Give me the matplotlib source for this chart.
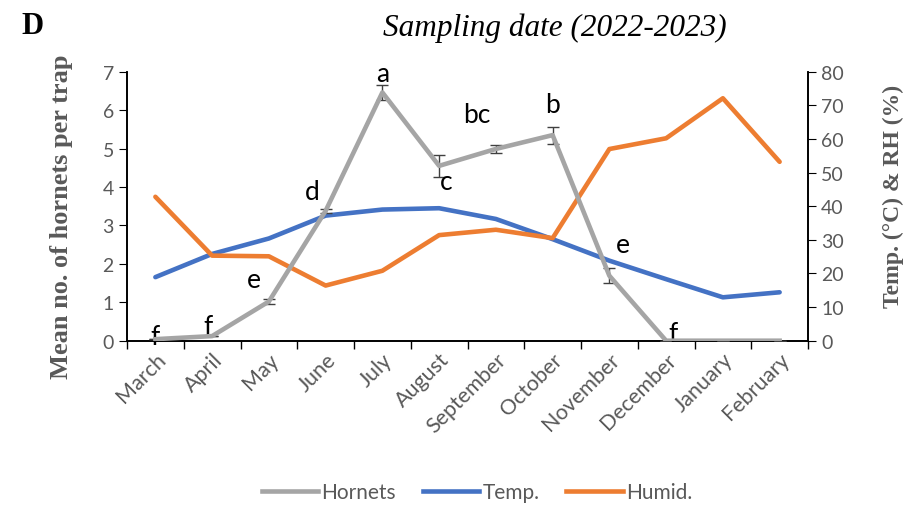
import matplotlib.pyplot as plt
from matplotlib.lines import Line2D
import numpy as np

months = ["March", "April", "May", "June", "July", "August", "September",
          "October", "November", "December", "January", "February"]
hornets = [0.04, 0.12, 1.02, 3.38, 6.46, 4.55, 4.99, 5.35, 1.69, 0.0, 0.0, 0.0]
hornets_err = [0.0, 0.0, 0.06, 0.06, 0.2, 0.28, 0.1, 0.22, 0.2, 0.0, 0.0, 0.0]
letters = ["f", "f", "e", "d", "a", "c", "bc", "b", "e", "f"]
temp = [18.9, 25.8, 30.4, 37.2, 39.0, 39.4, 36.2, 30.2, 23.8, 18.3, 12.9, 14.4]
humid = [42.8, 25.3, 25.1, 16.4, 20.8, 31.4, 33.0, 30.5, 57.0, 60.2, 72.1, 53.2]

# letter placement: shift along x (categories) and baseline height (hornet units)
letter_dx = [0.0, -0.07, -0.26, -0.23, 0.0, 0.12, -0.34, 0.0, 0.23, 0.12]
letter_base = [-0.08, 0.17, 1.39, 3.69, 6.77, 3.95, 5.68, 5.94, 2.30, 0.0]

gray = "#A5A5A5"
blue = "#4472C4"
orange = "#ED7D31"
txt = "#595959"
tick_font = "Lato"
serif = "Liberation Serif"

fig = plt.figure(figsize=(9.24, 5.06), dpi=100)
ax = fig.add_axes([127 / 924, 1 - 341.7 / 506, (808 - 127) / 924, (341.7 - 72.7) / 506])
ax2 = ax.twinx()

x = np.arange(len(months))
ax.errorbar(x, hornets, yerr=hornets_err, color=gray, lw=3.3, ecolor="#404040",
            elinewidth=1, capsize=4, capthick=1, zorder=3)
ax2.plot(x, temp, color=blue, lw=3.3, solid_capstyle="round")
ax2.plot(x, humid, color=orange, lw=3.3, solid_capstyle="round")
ax.set_zorder(ax2.get_zorder() + 1)
ax.patch.set_visible(False)

for i, lab in enumerate(letters):
    ax.text(x[i] + letter_dx[i], letter_base[i], lab, ha="center", va="baseline",
            fontsize=19, family=tick_font, color="black")

ax.set_xlim(-0.5, len(months) - 0.5)
ax.set_ylim(0, 7)
ax2.set_ylim(0, 80)
ax.set_yticks(range(0, 8))
ax2.set_yticks(range(0, 81, 10))
ax.set_xticks(x)
ax.set_xticklabels(months, rotation=45, ha="right", rotation_mode="anchor",
                   fontsize=15.5, family=tick_font, color=txt)
ax.set_xticks(np.arange(-0.5, len(months), 1), minor=True)
ax.tick_params(axis="x", which="major", length=0, pad=6)
ax.tick_params(axis="x", which="minor", length=6, direction="out", width=1)
ax.tick_params(axis="y", length=6, direction="out", labelsize=14, labelcolor=txt)
ax2.tick_params(axis="y", length=6, direction="out", labelsize=14, labelcolor=txt)
for t in ax.get_yticklabels() + ax2.get_yticklabels():
    t.set_family(tick_font)

for a in (ax, ax2):
    a.spines["top"].set_visible(False)
    for s in ("left", "right", "bottom"):
        a.spines[s].set_color("black")
        a.spines[s].set_linewidth(1.2)

fig.text(62 / 924, 1 - 217 / 506, "Mean no. of hornets per trap", family=serif,
         fontweight="bold", fontsize=19, color=txt, rotation=90,
         ha="center", va="center")
fig.text(893 / 924, 1 - 196 / 506, "Temp. (\u00b0C) & RH (%)", family=serif,
         fontweight="bold", fontsize=17, color=txt, rotation=90,
         ha="center", va="center")

fig.text(33 / 924, 1 - 27 / 506, "D", family=serif, fontweight="bold", fontsize=22,
         ha="center", va="center")
fig.text(555 / 924, 1 - 28 / 506, "Sampling date (2022-2023)", family=serif,
         style="italic", fontsize=22.5, ha="center", va="center")

handles = [Line2D([], [], color=gray, lw=3.3), Line2D([], [], color=blue, lw=3.3),
           Line2D([], [], color=orange, lw=3.3)]
leg = fig.legend(handles, ["Hornets", "Temp.", "Humid."], loc="center",
                 bbox_to_anchor=(477 / 924, 1 - 493 / 506), ncol=3, frameon=False,
                 prop={"family": tick_font, "size": 15}, handlelength=2.7,
                 handletextpad=0.15, columnspacing=1.3)
for t in leg.get_texts():
    t.set_color(txt)

fig.savefig("out.png", dpi=100)
